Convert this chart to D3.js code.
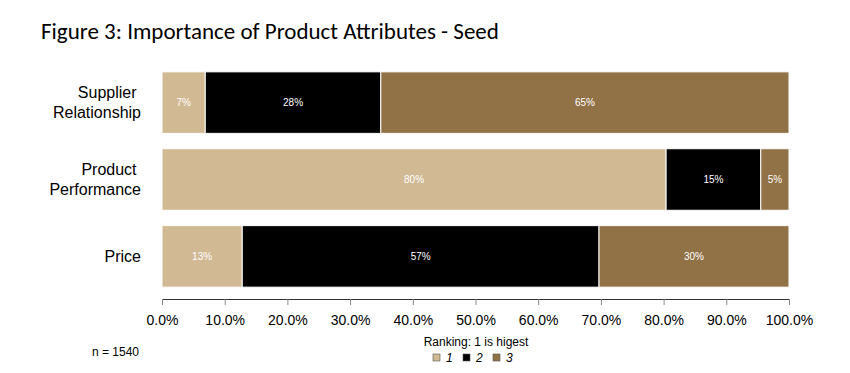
<!DOCTYPE html>
<html>
<head>
<meta charset="utf-8">
<script src="https://cdn.jsdelivr.net/npm/d3@7"></script>
<style>
  body { margin: 0; background: #fff; }
  text { font-family: "Liberation Sans", Arial, sans-serif; }
</style>
</head>
<body>
<div id="chart"></div>
<script>
// attributes top to bottom, share of ranking 1/2/3 (percent)
const attributes = ["Supplier Relationship", "Product Performance", "Price"]
const rank1 = [6.9, 80.4, 12.8]
const rank2 = [28.0, 15.1, 56.9]
const rank3 = [65.1, 4.5, 30.3]
const rankKeys = ["1", "2", "3"]
const tickValues = [0, 10, 20, 30, 40, 50, 60, 70, 80, 90, 100]

const width = 850, height = 373
const margin = { top: 68, right: 61, bottom: 82, left: 162 }

const svg = d3.select("#chart").append("svg")
    .attr("width", width)
    .attr("height", height)

svg.append("text")
    .attr("x", 41).attr("y", 39)
    .style("font-family", "Carlito, Lato, 'Open Sans', sans-serif")
    .attr("font-size", 23)
    .attr("fill", "#000")
    .text("Figure 3: Importance of Product Attributes - Seed")

const rows = attributes.map((a, i) => ({ name: a, "1": rank1[i], "2": rank2[i], "3": rank3[i] }))

const x = d3.scaleLinear().domain([0, 100]).range([margin.left, width - margin.right])
const y = d3.scaleBand().domain(attributes)
    .range([margin.top, height - margin.bottom])
    .paddingInner(0.2).paddingOuter(0.05)
const color = d3.scaleOrdinal().domain(rankKeys).range(["#D1B994", "#000000", "#917146"])

const stack = d3.stack().keys(rankKeys)(rows)

const layer = svg.selectAll(".layer")
    .data(stack).enter().append("g")
    .attr("class", "layer")
    .attr("fill", d => color(d.key))

layer.selectAll("rect")
    .data(d => d).enter().append("rect")
    .attr("x", d => x(d[0]))
    .attr("y", d => y(d.data.name))
    .attr("width", d => x(d[1]) - x(d[0]))
    .attr("height", y.bandwidth())
    .attr("stroke", "#fff")
    .attr("stroke-width", 1)

layer.selectAll("text")
    .data(d => d).enter().append("text")
    .attr("x", d => (x(d[0]) + x(d[1])) / 2)
    .attr("y", d => y(d.data.name) + y.bandwidth() / 2)
    .attr("text-anchor", "middle")
    .attr("dominant-baseline", "central")
    .attr("font-size", 10)
    .attr("fill", "#fff")
    .text(d => Math.round(d[1] - d[0]) + "%")

// category labels, wrapped onto two lines (first line keeps a trailing space)
attributes.forEach(a => {
    const words = a.split(" ")
    const t = svg.append("text")
        .attr("text-anchor", "end")
        .attr("font-size", 16)
        .attr("fill", "#000")
        .style("white-space", "pre")
    const cy = y(a) + y.bandwidth() / 2
    words.forEach((w, i) => {
        t.append("tspan")
            .attr("x", 141)
            .attr("y", cy + (i - (words.length - 1) / 2) * 20)
            .attr("dominant-baseline", "central")
            .text(i < words.length - 1 ? w + " " : w)
    })
})

// x axis
const axis = svg.append("g")
    .attr("transform", `translate(0, ${height - margin.bottom + 8})`)
    .call(d3.axisBottom(x).tickValues(tickValues).tickSize(6).tickPadding(10)
        .tickFormat(d => d.toFixed(1) + "%"))
axis.select(".domain").attr("stroke", "#333")
axis.selectAll(".tick line").attr("stroke", "#888")
axis.selectAll(".tick text").attr("font-size", 14).attr("fill", "#000")
    .style("font-family", "'Liberation Sans', Arial, sans-serif")

svg.append("text")
    .attr("x", 92).attr("y", 356)
    .attr("font-size", 12)
    .text("n = 1540")

// legend
svg.append("text")
    .attr("x", 476).attr("y", 346)
    .attr("text-anchor", "middle")
    .attr("font-size", 12)
    .text("Ranking: 1 is higest")

const legend = svg.selectAll(".legend")
    .data(rankKeys).enter().append("g")
    .attr("class", "legend")
    .attr("transform", (d, i) => `translate(${433 + i * 30}, 357)`)
legend.append("rect")
    .attr("width", 7).attr("height", 7)
    .attr("y", -3)
    .attr("fill", d => color(d))
    .attr("stroke", "#555").attr("stroke-width", 0.6)
legend.append("text")
    .attr("x", 13).attr("y", 1)
    .attr("dominant-baseline", "central")
    .attr("font-size", 12)
    .attr("font-style", "italic")
    .text(d => d)
</script>
</body>
</html>
